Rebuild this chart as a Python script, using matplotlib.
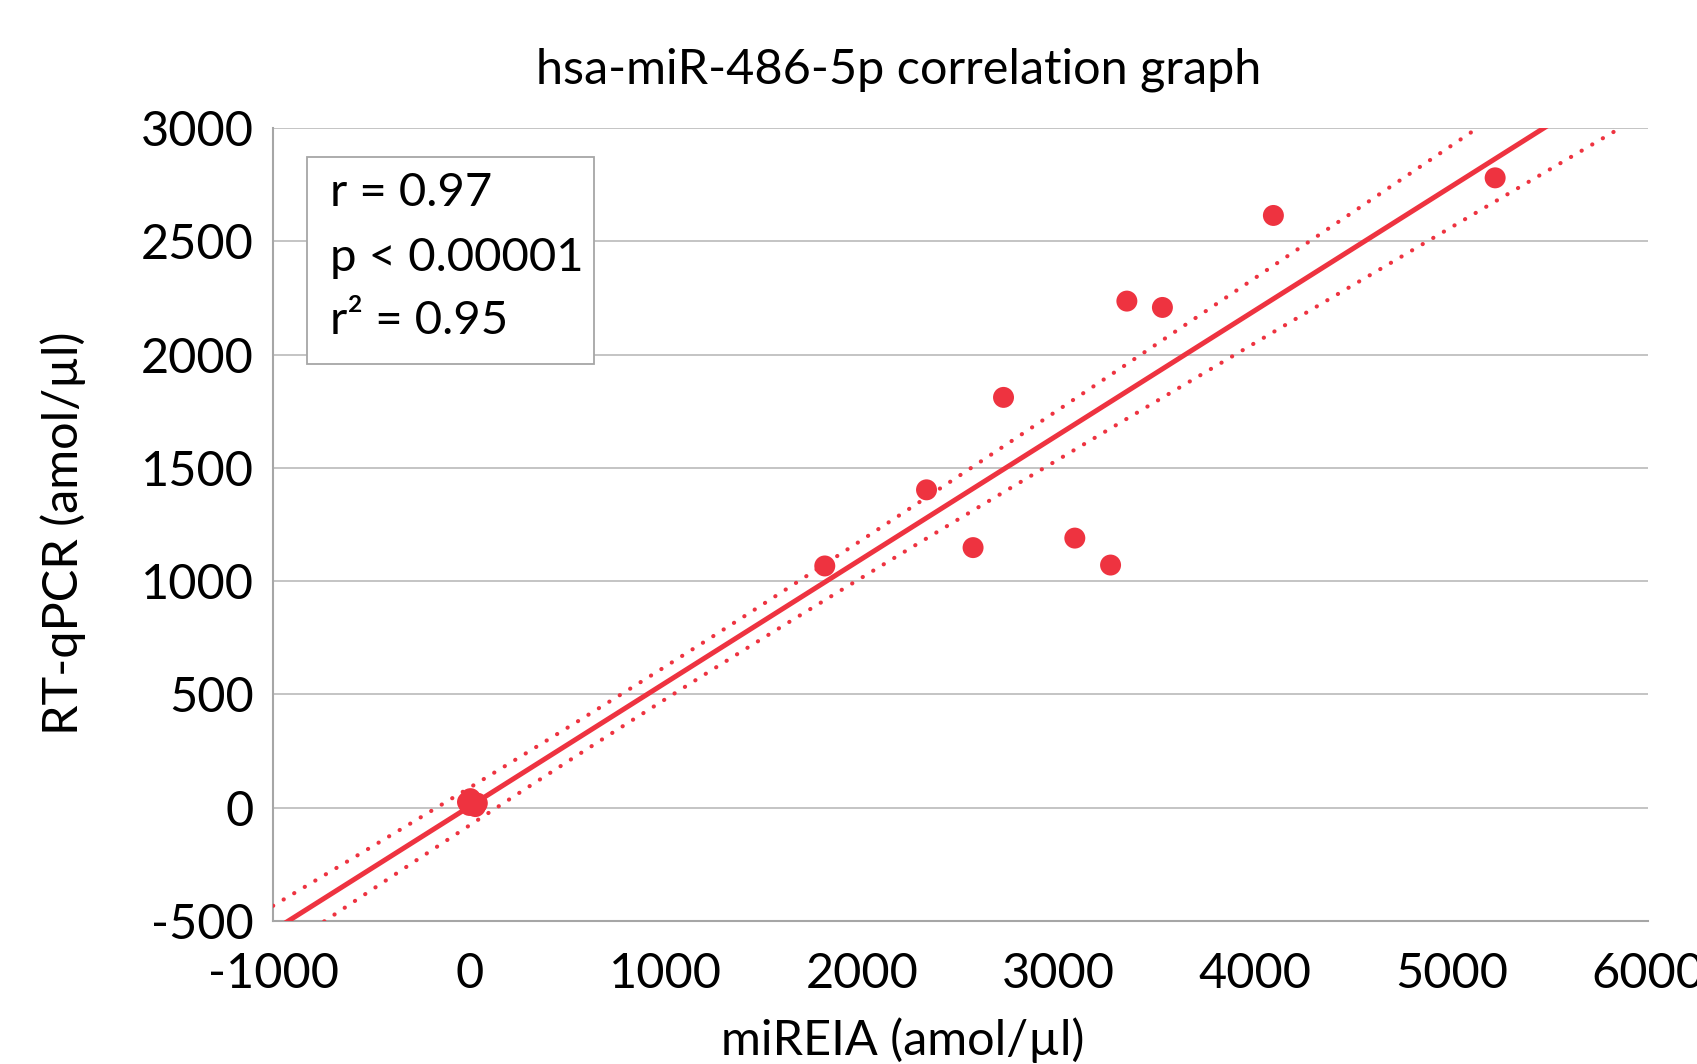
import numpy as np
import matplotlib
matplotlib.use("Agg")
import matplotlib.pyplot as plt
from matplotlib.patches import Rectangle

# ---- data ----
mireia = [-10, 5, 30, 35, 10, 20, 0, 40,
          1809, 2327, 2564, 2719, 3082, 3264, 3347, 3528, 4093, 5222]
rtqpcr = [25, 40, 5, 15, 15, 25, 10, 20,
          1067, 1403, 1148, 1811, 1190, 1071, 2236, 2208, 2614, 2780]

fit_slope = 0.5475
fit_intercept = 5.0
band_center_x = 1000.0
band_min_halfwidth = 72.0
band_spread = 0.0017

x_ticks = [-1000, 0, 1000, 2000, 3000, 4000, 5000, 6000]
y_ticks = [-500, 0, 500, 1000, 1500, 2000, 2500, 3000]

title = "hsa-miR-486-5p correlation graph"
xlabel = "miREIA (amol/µl)"
ylabel = "RT-qPCR (amol/µl)"
stats_lines = ["r = 0.97", "p < 0.00001", "r² = 0.95"]

RED = "#EE3340"
FONT = ["Lato", "DejaVu Sans"]
plt.rcParams["font.family"] = FONT

fig = plt.figure(figsize=(16.97, 10.64), dpi=100)
ax = fig.add_axes([0.1609, 0.1344, 0.9711 - 0.1609, 0.8797 - 0.1344])

ax.set_xlim(x_ticks[0], x_ticks[-1])
ax.set_ylim(y_ticks[0], y_ticks[-1])
ax.set_xticks(x_ticks)
ax.set_yticks(y_ticks)
ax.set_xticklabels([str(v) for v in x_ticks])
ax.set_yticklabels([str(v) for v in y_ticks])
ax.tick_params(length=0, labelsize=35, pad=14)
ax.tick_params(axis="x", pad=22)

for s in ["top", "right"]:
    ax.spines[s].set_visible(False)
for s in ["left", "bottom"]:
    ax.spines[s].set_color("#A6A6A6")
    ax.spines[s].set_linewidth(1.5)
ax.yaxis.grid(True, color="#BFBFBF", linewidth=1.3)
ax.set_axisbelow(True)

# fit line and band
xs = np.linspace(x_ticks[0], x_ticks[-1], 400)
yfit = fit_slope * xs + fit_intercept
half = np.sqrt(band_min_halfwidth ** 2 + band_spread * (xs - band_center_x) ** 2)
ax.plot(xs, yfit, color=RED, linewidth=3.6, solid_capstyle="round", zorder=3)
for sign in (1, -1):
    ax.plot(xs, yfit + sign * half, color=RED, linewidth=3.0,
            linestyle=(0, (0.05, 2.9)), dash_capstyle="round", zorder=3)

ax.scatter(mireia, rtqpcr, s=228, color=RED, edgecolors="none", zorder=4)

fig.text(0.5298, 0.934, title, fontsize=35, ha="center", va="center")
fig.text(0.532, 0.0226, xlabel, fontsize=35, ha="center", va="center")
fig.text(0.0371, 0.499, ylabel, fontsize=35, ha="center", va="center",
         rotation=90)

# stats box
ax.add_patch(Rectangle((0.0247, 0.7024), 0.2335 - 0.0247, 0.9634 - 0.7024,
                       transform=ax.transAxes, facecolor="white",
                       edgecolor="#A6A6A6", linewidth=1.3, zorder=5))
for txt, yy in zip(stats_lines, [0.918, 0.836, 0.757]):
    ax.text(0.0415, yy, txt, transform=ax.transAxes, fontsize=34,
            va="center", ha="left", zorder=6)

fig.savefig("out.png", dpi=100)
